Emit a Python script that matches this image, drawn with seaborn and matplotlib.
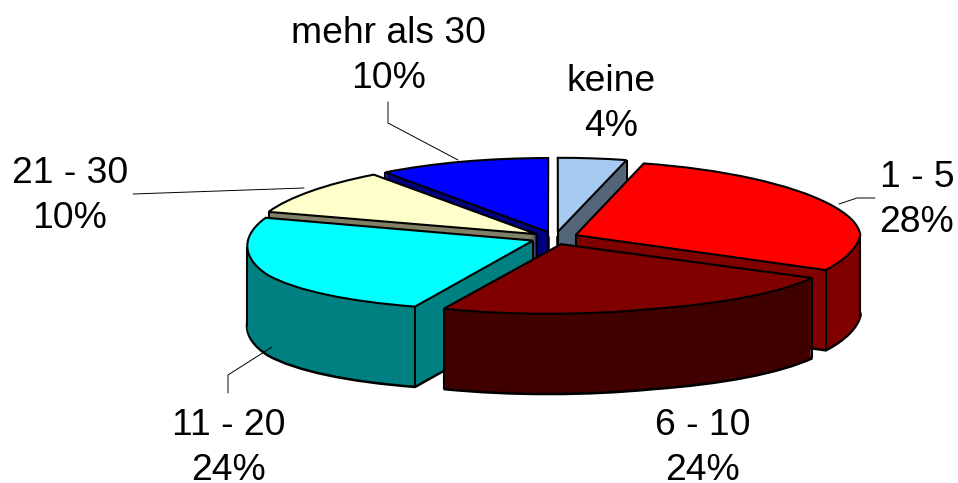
import numpy as np
import matplotlib
matplotlib.use("Agg")
import matplotlib.pyplot as plt
from matplotlib.transforms import Affine2D, Transform
import seaborn as sns

categories = ["keine", "1 - 5", "6 - 10", "11 - 20", "21 - 30", "mehr als 30"]
percent = [4, 28, 24, 24, 10, 10]
top_colors = ["#a6caf0", "#ff0000", "#800000", "#00ffff", "#ffffcc", "#0000ff"]
side_colors = ["#536578", "#800000", "#400000", "#008080", "#808066", "#000080"]

EXPLODE = 0.08
CX, CY, RX, RY = 555.0, 237.5, 285.0, 71.0
DEPTH = 80
EDGE = 1.5

label_pos = [(611, 104), (917, 200), (703, 448), (229, 448), (70, 196), (389, 56)]
leaders = [
    ([388, 388, 458], [102, 123, 160]),
    ([875, 857, 839], [198, 198, 204]),
    ([228, 228, 272], [393, 375, 347]),
    ([133, 304], [194, 188]),
]

sns.set_theme(style="white")
plt.rcParams["font.family"] = ["Liberation Sans", "DejaVu Sans"]

fig = plt.figure(figsize=(9.58, 4.83), dpi=100)
ax = fig.add_axes([0, 0, 1, 1])


class ViewWarp(Transform):
    """Small bend of the pie plane that imitates the 3D view of the original."""
    input_dims = output_dims = 2
    is_affine = False

    def transform_non_affine(self, values):
        v = np.asarray(values, dtype=float)
        x, y = v[:, 0], v[:, 1]
        front = np.clip(-y, 0, 1)
        back = np.clip(y, 0, 1)
        nx = x * (1 - 0.03 * back) - 0.052 * front ** 0.7
        ny = y * (1 + 0.04 * back) - 0.28 * front * (1 - front)
        return np.column_stack([nx, ny])


def projection(dz=0.0):
    return ViewWarp() + Affine2D.from_values(RX, 0, 0, -RY, CX, CY + dz)


def draw_pie(colors, dz, lw):
    wedges, _ = ax.pie(
        percent, explode=[EXPLODE] * len(percent), colors=colors,
        startangle=90, counterclock=False,
        wedgeprops=dict(edgecolor="black" if lw else "none", linewidth=lw),
    )
    for w in wedges:
        w.set_transform(projection(dz) + ax.transData)
        w.set_joinstyle("miter")
    return wedges


top = draw_pie(top_colors, 0, EDGE)

# paint slices back to front
centers = [np.sin(np.deg2rad(0.5 * (w.theta1 + w.theta2))) for w in top]
order = np.argsort(centers)[::-1]
rank = {int(i): r for r, i in enumerate(order)}

for i, w in enumerate(top):
    w.set_zorder(rank[i] * 1000 + DEPTH + 10)

for k in range(DEPTH, 0, -1):
    lw = EDGE * 1.5 if k == DEPTH else 0
    layer = draw_pie(side_colors, k, lw)
    for i, w in enumerate(layer):
        w.set_zorder(rank[i] * 1000 + (DEPTH - k))


def vertical(point, i):
    px, py = point
    ax.plot([px, px], [py, py + DEPTH], color="black", lw=EDGE,
            zorder=rank[i] * 1000 + DEPTH + 5, solid_capstyle="butt")


# vertical wall edges
for i, w in enumerate(top):
    m = projection()
    cx0, cy0 = w.center
    any_cut = False
    for theta, side in ((w.theta1, 1), (w.theta2, -1)):
        t = np.deg2rad(theta)
        cut_front = np.sin(t - side * np.pi / 2) < 0
        any_cut = any_cut or cut_front
        if np.sin(t) < 0 or cut_front:
            vertical(m.transform(np.array([[cx0 + np.cos(t), cy0 + np.sin(t)]]))[0], i)
    if any_cut:
        vertical(m.transform(np.array([[cx0, cy0]]))[0], i)
    # outline of the disc at its far left and right
    arc = np.deg2rad(np.linspace(w.theta1, w.theta2, 720))
    arc_px = m.transform(np.column_stack([cx0 + np.cos(arc), cy0 + np.sin(arc)]))
    for a, pick in ((0, np.argmax), (360, np.argmax), (180, np.argmin), (-180, np.argmin)):
        if w.theta1 <= a <= w.theta2:
            vertical(arc_px[pick(arc_px[:, 0])], i)

for xs, ys in leaders:
    ax.plot(xs, ys, color="black", lw=0.7, zorder=9000)

for (x, y), c, p in zip(label_pos, categories, percent):
    ax.text(x, y, f"{c}\n{p}%", ha="center", va="center", fontsize=26.8,
            color="black", linespacing=1.37, zorder=9100)

ax.set_aspect("auto")
ax.set_xlim(0, 958)
ax.set_ylim(483, 0)
ax.set_axis_off()
fig.savefig("out.png", dpi=100, facecolor="white")
